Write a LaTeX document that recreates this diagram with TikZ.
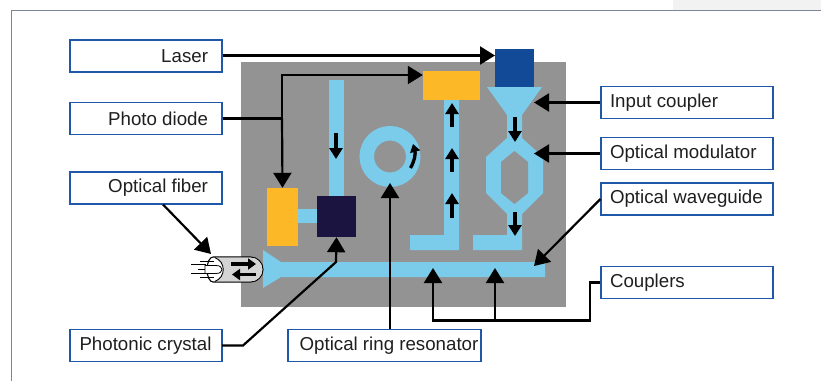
\documentclass[tikz,border=0pt]{standalone}
\usepackage{fontspec}
\setmainfont{Liberation Sans}
\usetikzlibrary{arrows.meta}
\definecolor{wg}{HTML}{7BCBEB}
\definecolor{chip}{HTML}{939393}
\definecolor{amber}{HTML}{FDB827}
\definecolor{navy}{HTML}{1B1340}
\definecolor{blu}{HTML}{134A97}
\definecolor{bord}{HTML}{1F58A8}
\definecolor{frame}{HTML}{7B8794}
\newcommand{\rlab}[2]{\makebox[#1pt][r]{#2\hspace{14pt}}}
\newcommand{\llab}[2]{\makebox[#1pt][l]{\hspace{9pt}#2}}
\tikzset{
  x=1pt,y=-1pt,
  lab/.style={draw=bord,line width=1.1pt,fill=white,inner sep=0pt,font=\fontsize{18.7pt}{20pt}\selectfont,text=black!88},
  leftlab/.style={lab,minimum width=152pt,minimum height=32pt},
  rightlab/.style={lab,minimum width=172pt,minimum height=32pt},
  wgf/.style={fill=wg,draw=none},
  block/.style={inner sep=0pt,draw=none},
  call/.style={draw=black,line width=2.2pt,-{Triangle[length=15pt,width=18pt]}},
  callp/.style={draw=black,line width=2.2pt},
  flow/.style={draw=black,line width=3.3pt,-{Triangle[length=11pt,width=13pt]}},
  fibflow/.style={draw=black,line width=3.3pt,-{Triangle[length=8pt,width=11pt]}}
}
\begin{document}
\begin{tikzpicture}
\useasboundingbox (0,0) rectangle (821,381);
\fill[white] (0,0) rectangle (821,381);
\fill[black!5] (673,0) rectangle (821,10);
\draw[frame,line width=1.3pt] (821,10.5) -- (11.5,10.5) -- (11.5,381);
% chip
\fill[chip] (241,62) rectangle (566,307);
% waveguides
\fill[wgf] (329,80) rectangle (344,197);
\fill[wgf] (297,209) rectangle (318,223);
\fill[wgf] (263,250) -- (281,262) -- (545,262) -- (545,277) -- (281,277) -- (263,288) -- cycle;
\fill[wgf] (410,235) -- (444,235) -- (444,99) -- (459,99) -- (459,250) -- (410,250) -- cycle;
\fill[wgf] (473,235) -- (507,235) -- (507,214) -- (486,193) -- (486,157) -- (507,138) -- (507,115) -- (487,87) -- (542,87) -- (522,115) -- (522,138) -- (543,157) -- (543,193) -- (522,214) -- (522,250) -- (473,250) -- cycle;
\fill[chip] (501,162) -- (514.5,151) -- (528,162) -- (528,193) -- (514.5,204) -- (501,193) -- cycle;
\node[circle,draw=wg,line width=14.5pt,minimum size=46.5pt,inner sep=0pt,outer sep=0pt] (ring) at (390,156.5) {};
% devices
\node[block,fill=amber,minimum width=31pt,minimum height=58pt] (pd1) at (282.5,217) {};
\node[block,fill=navy,minimum width=39pt,minimum height=41pt] (pc) at (336.5,216.5) {};
\node[block,fill=amber,minimum width=57pt,minimum height=29pt] (pd2) at (451.5,85.5) {};
\node[block,fill=blu,minimum width=39pt,minimum height=38pt] (laser) at (514.5,68) {};
% fibre
\draw[black,line width=1.1pt,fill=white] (213,257) -- (250.5,257) arc[start angle=-90,end angle=90,radius=12.5] -- (213,282) arc[start angle=90,end angle=270,x radius=6,y radius=12.5];
\fill[black!17] (215,257.6) -- (250.5,257.6) arc[start angle=-90,end angle=90,radius=11.9] -- (215,281.4) .. controls (226,277) and (226,262) .. (215,257.6);
\draw[black,line width=.9pt] (215,257.6) .. controls (226,262) and (226,277) .. (215,281.4);
\draw[fibflow] (231,264) -- (256,264);
\draw[fibflow] (256,274.5) -- (232,274.5);
\fill[white,draw=black,line width=.8pt] (205,265.5) -- (216,265.5) .. controls (224,265.5) and (224,273.5) .. (216,273.5) -- (205,273.5) -- cycle;
\draw[black,line width=1pt] (191,264.5) -- (206,264.5) (191,273.5) -- (206,273.5) (200,261) -- (214,261) (200,277.5) -- (214,277.5) (198,269) -- (205,269);
\coordinate (fib) at (211,254);
% labels
\node[leftlab] (lLaser) at (146,56) {\rlab{152}{Laser}};
\node[leftlab] (lPD) at (146,118.5) {\rlab{152}{Photo diode}};
\node[leftlab] (lOF) at (146,188) {\rlab{152}{Optical fiber}};
\node[leftlab] (lPC) at (146,345.5) {\makebox[152pt][r]{Photonic crystal\hspace{10.5pt}}};
\node[lab,minimum width=193pt,minimum height=32pt] (lORR) at (384.5,345.5) {\makebox[193pt][c]{\hspace{9pt}Optical ring resonator}};
\node[rightlab] (lIC) at (687,102.5) {\llab{172}{Input coupler}};
\node[rightlab] (lOM) at (687,153.5) {\llab{172}{Optical modulator}};
\node[rightlab] (lOW) at (687,199) {\llab{172}{Optical waveguide}};
\node[rightlab] (lC) at (687,282.5) {\llab{172}{Couplers}};
% flow arrows
\draw[flow] (336,133) -- (336,159);
\draw[flow] (452,127) -- (452,103);
\draw[flow] (452,172) -- (452,148);
\draw[flow] (452,218) -- (452,193);
\draw[flow] (515,117) -- (515,142);
\draw[flow] (515,212) -- (515,236);
\draw[draw=black,line width=3.3pt,-{Triangle[length=8pt,width=10pt]}] (410.5,168) .. controls (415,160) and (415.5,153) .. (413,144);
% callouts
\coordinate (tl) at (495,55.5);
\draw[call] (lLaser.east |- tl) -- (tl);
\coordinate (pdj) at (282,118.5);
\draw[callp] (lPD.east) -- (pdj);
\draw[call] (pdj) -- (pd1.north);
\coordinate (pdt) at (282,75);
\draw[call] (pdj) -- (pdt) -- (pd2.west |- pdt);
\coordinate (ofa) at (163,204.5);
\draw[call] (ofa) -- (fib);
\coordinate (pca) at (222,345.5);
\coordinate (pcb) at (243,345.5);
\coordinate (pcc) at (336,262);
\draw[call] (pca) -- (pcb) -- (pcc) -- (pc.south);
\coordinate (ringt) at (390,183);
\draw[call] (lORR.north -| ringt) -- (ringt);
\coordinate (tic) at (534,102.5);
\coordinate (tom) at (534,153.5);
\coordinate (tow) at (534,266);
\draw[call] (lIC.west) -- (tic);
\draw[call] (lOM.west) -- (tom);
\draw[call] (lOW.west) -- (tow);
\coordinate (cj) at (590,320.5);
\coordinate (cl) at (433,268);
\coordinate (cm) at (495,268);
\draw[call] (lC.west) -- (lC.west -| cj) -- (cj) -- (cl |- cj) -- (cl);
\draw[call] (cm |- cj) -- (cm);
\end{tikzpicture}
\end{document}
